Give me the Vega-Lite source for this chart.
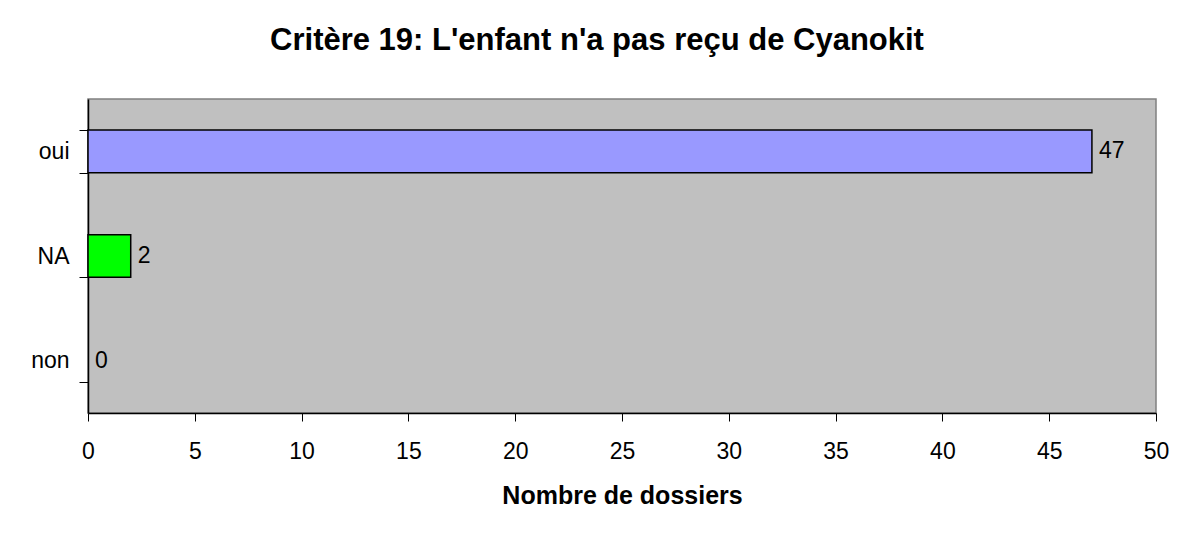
{
  "$schema": "https://vega.github.io/schema/vega-lite/v6.json",
  "width": 1068,
  "height": 314,
  "autosize": {"type": "none"},
  "padding": {"left": 88, "top": 99, "right": 36, "bottom": 127},
  "background": "white",
  "title": {
    "text": "Critère 19: L'enfant n'a pas reçu de Cyanokit",
    "font": "Liberation Sans",
    "fontSize": 31,
    "fontWeight": "bold",
    "color": "black",
    "anchor": "middle",
    "baseline": "alphabetic",
    "offset": 7,
    "dx": -25
  },
  "data": {
    "values": [
      {"reponse": "oui", "n": 47},
      {"reponse": "NA", "n": 2},
      {"reponse": "non", "n": 0}
    ]
  },
  "encoding": {
    "y": {
      "field": "reponse",
      "type": "nominal",
      "sort": ["oui", "NA", "non"],
      "scale": {"paddingInner": 0.593, "paddingOuter": 0.2965},
      "axis": {
        "title": null,
        "tickBand": "extent",
        "tickSize": 9,
        "tickColor": "black",
        "domainColor": "black",
        "domainWidth": 1.5,
        "labelFont": "Liberation Sans",
        "labelFontSize": 23,
        "labelColor": "black",
        "labelPadding": 10
      }
    },
    "x": {
      "field": "n",
      "type": "quantitative",
      "scale": {"domain": [0, 50], "nice": false},
      "axis": {
        "title": "Nombre de dossiers",
        "titleFont": "Liberation Sans",
        "titleFontSize": 25,
        "titleFontWeight": "bold",
        "titleColor": "black",
        "titlePadding": 20,
        "values": [0, 5, 10, 15, 20, 25, 30, 35, 40, 45, 50],
        "grid": false,
        "tickSize": 8,
        "tickColor": "black",
        "domainColor": "black",
        "domainWidth": 1.5,
        "labelFont": "Liberation Sans",
        "labelFontSize": 23,
        "labelColor": "black",
        "labelPadding": 19,
        "labelFlush": false
      }
    }
  },
  "layer": [
    {
      "mark": {"type": "bar", "stroke": "black", "strokeWidth": 1.5},
      "encoding": {
        "color": {
          "field": "reponse",
          "type": "nominal",
          "scale": {"domain": ["oui", "NA", "non"], "range": ["#9999FF", "#00FF00", "#C0C0C0"]},
          "legend": null
        },
        "opacity": {
          "condition": {"test": "datum.n == 0", "value": 0},
          "value": 1
        }
      }
    },
    {
      "mark": {"type": "text", "align": "left", "baseline": "middle", "dx": 7, "font": "Liberation Sans", "fontSize": 23, "color": "black"},
      "encoding": {
        "text": {"field": "n", "type": "quantitative"}
      }
    }
  ],
  "config": {
    "view": {"fill": "#C0C0C0", "stroke": "#808080", "strokeWidth": 1.5}
  }
}
